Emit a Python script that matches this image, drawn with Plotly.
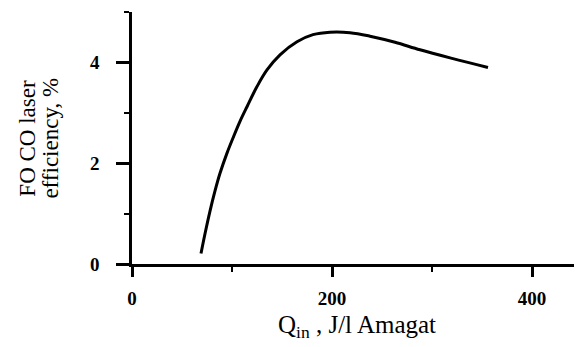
import plotly.graph_objects as go

q_in = [69, 73, 78, 83, 88, 95, 101, 108, 115, 125, 135, 148, 165, 181, 198, 218, 238, 263, 288, 320, 356]
efficiency = [0.21, 0.60, 1.05, 1.45, 1.80, 2.20, 2.50, 2.83, 3.12, 3.52, 3.85, 4.15, 4.41, 4.55, 4.60, 4.59, 4.52, 4.40, 4.25, 4.08, 3.90]

x_ticks = [0, 200, 400]
y_ticks = [0, 2, 4]

fig = go.Figure()
fig.add_trace(go.Scatter(
    x=q_in, y=efficiency, mode="lines",
    line=dict(color="black", width=3, shape="spline", smoothing=1.0),
    showlegend=False, hoverinfo="skip",
))

tickfont = dict(family="Liberation Serif", size=19, color="black", weight="bold")
titlefont = dict(family="Liberation Serif", size=23, color="black")

# page body has an 8px default margin: figure is 574x339 placed at (8, 8)
fig.update_layout(
    width=574, height=339,
    margin=dict(l=124, r=0, t=4, b=83),
    paper_bgcolor="white", plot_bgcolor="white",
    xaxis=dict(
        range=[0, 450], tickvals=x_ticks, ticktext=[str(v) for v in x_ticks],
        showgrid=False, zeroline=False, showline=True, linecolor="black", linewidth=2.5,
        ticks="outside", ticklen=10, tickwidth=2.5, tickcolor="black",
        tickfont=tickfont, ticklabelstandoff=5, automargin=False,
        minor=dict(tickvals=[100, 300], ticks="outside", ticklen=5, tickwidth=2, tickcolor="black", showgrid=False),
        fixedrange=True,
    ),
    yaxis=dict(
        range=[0, 5], tickvals=y_ticks, ticktext=[str(v) for v in y_ticks],
        showgrid=False, zeroline=False, showline=True, linecolor="black", linewidth=2.5,
        ticks="outside", ticklen=13, tickwidth=2.5, tickcolor="black",
        tickfont=tickfont, ticklabelstandoff=13, automargin=False,
        minor=dict(tickvals=[1, 3, 5], ticks="outside", ticklen=5, tickwidth=2, tickcolor="black", showgrid=False),
        fixedrange=True,
    ),
    annotations=[
        dict(
            text="FO CO laser", textangle=-90,
            xref="paper", yref="paper", x=-0.233, y=0.498, xanchor="center", yanchor="middle",
            showarrow=False, font=titlefont,
        ),
        dict(
            text="efficiency, %", textangle=-90,
            xref="paper", yref="paper", x=-0.182, y=0.498, xanchor="center", yanchor="middle",
            showarrow=False, font=titlefont,
        ),
        dict(
            text="Q<sub>in</sub> , J/l Amagat",
            xref="paper", yref="paper", x=0.5, y=-0.18, xanchor="center", yanchor="top",
            showarrow=False,
            font=dict(family="Liberation Serif", size=25, color="black"),
        ),
    ],
)

fig.write_html("out.html")
